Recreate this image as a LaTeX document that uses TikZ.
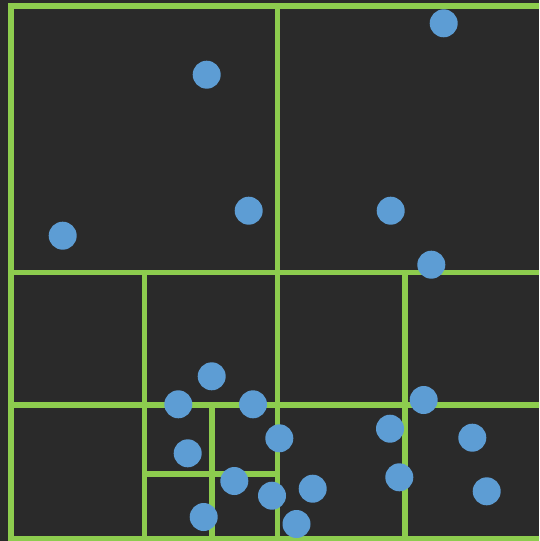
\documentclass[tikz,border=0pt]{standalone}
\usepackage{tikz}
\usetikzlibrary{positioning}

\definecolor{board}{RGB}{42,42,42}
\definecolor{chalkgreen}{RGB}{141,204,78}
\definecolor{pointblue}{RGB}{93,157,212}

\tikzset{
  cell/.style={draw=chalkgreen, line width=4.2pt, line cap=rect},
  pt/.style={circle, fill=pointblue, inner sep=0pt, minimum size=21pt}
}

\begin{document}
\begin{tikzpicture}[x=0.75pt, y=-0.75pt]
  \fill[board] (0,0) rectangle (539,541);
  \useasboundingbox (0,0) rectangle (539,541);
  \begin{scope}
  \clip (0,0) rectangle (539,541);
  % outer square
  \draw[cell] (11,545) -- (11,6) -- (545,6);
  \draw[cell] (11,538.5) -- (545,538.5);
  % first split
  \draw[cell] (277.5,6) -- (277.5,538.5);
  \draw[cell] (11,272.5) -- (545,272.5);
  % lower quadrants
  \draw[cell] (144.5,272.5) -- (144.5,538.5);
  \draw[cell] (405,272.5) -- (405,538.5);
  \draw[cell] (11,405) -- (545,405);
  % finest cell
  \draw[cell] (212,405) -- (212,538.5);
  \draw[cell] (144.5,474) -- (277.5,474);
  \end{scope}
  % points
  \foreach \px/\py [count=\i] in {206.7/74.7, 443.7/23.3, 248.7/210.7, 390.7/210.7,
      62.7/235.7, 431.3/264.7, 211.7/376.3, 178.3/404.3, 253/404.3, 423.7/400,
      279.3/438.3, 390/428.7, 472.3/437.7, 187.7/453.3, 234.3/481, 272/495.7,
      312.7/488.7, 399.3/477.3, 486.7/491.3, 203.7/517, 296.5/524}
    \node[pt] (p\i) at (\px,\py) {};
\end{tikzpicture}
\end{document}
